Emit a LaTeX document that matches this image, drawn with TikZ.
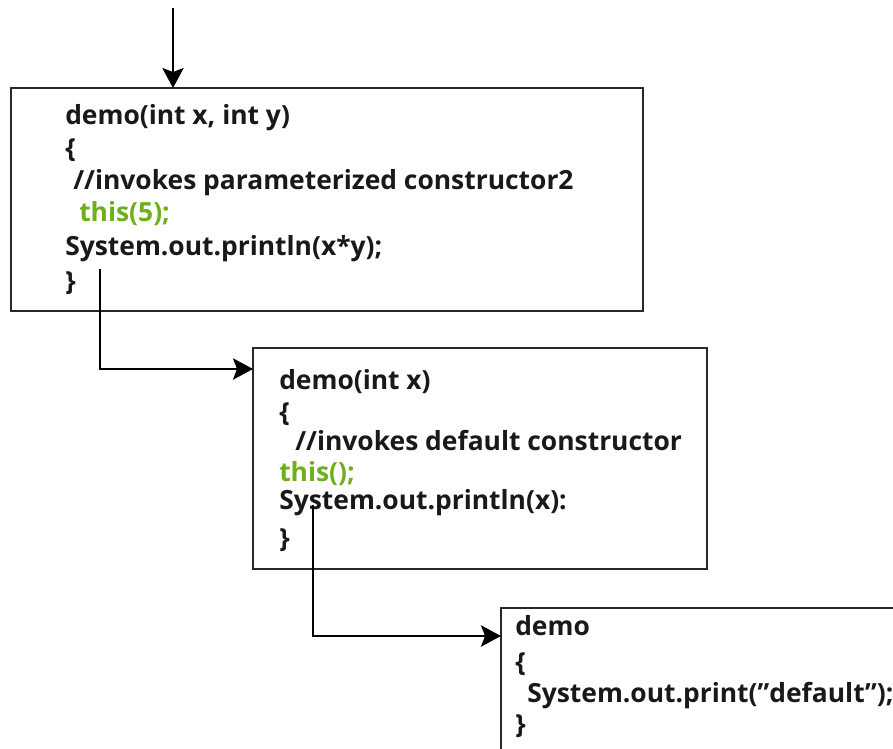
\documentclass[tikz,border=0pt]{standalone}
\usepackage{fontspec}
\setmainfont{Open Sans}
\usetikzlibrary{arrows.meta}
\definecolor{codegreen}{RGB}{110,175,30}
\definecolor{framegray}{RGB}{40,40,40}
\tikzset{
  codebox/.style={draw=framegray, line width=1.9pt},
  codeline/.style={anchor=base west, inner sep=0pt, font=\bfseries\fontsize{19.8}{22}\selectfont, text=black!90},
  greenline/.style={codeline, text=codegreen},
  flow/.style={draw=black, line width=1.5pt, -{Stealth[length=15pt,width=16pt,inset=3pt]}},
}
\begin{document}
\begin{tikzpicture}[x=0.75pt,y=-0.75pt]
  \useasboundingbox (0,0) rectangle (893,749);
  \clip (0,0) rectangle (893,749);

  % caller entry point
  \coordinate (entry) at (173,8);

  % constructor with two parameters
  \draw[codebox] (11,88) rectangle (643,311);
  \coordinate (boxAtop) at (173,88);
  \node[codeline]  (a1) at (65,125) {demo(int x, int y)};
  \node[codeline]  (a2) at (65,157) {\{};
  \node[codeline]  (a3) at (73,190) {//invokes parameterized constructor2};
  \node[greenline] (a4) at (79,221) {this(5);};
  \node[codeline]  (a5) at (65,255) {System.out.println(x*y);};
  \node[codeline]  (a6) at (65,290) {\}};

  % constructor with one parameter
  \draw[codebox] (253,348) rectangle (707,569);
  \coordinate (boxBleft) at (253,369);
  \node[codeline]  (b1) at (279,389) {demo(int x)};
  \node[codeline]  (b2) at (279,421) {\{};
  \node[codeline]  (b3) at (295,450) {//invokes default constructor};
  \node[greenline] (b4) at (279,481) {this();};
  \node[codeline]  (b5) at (279,509) {System.out.println(x):};
  \node[codeline]  (b6) at (279,547) {\}};

  % default constructor
  \draw[codebox] (501,608) rectangle (920,780);
  \coordinate (boxCleft) at (501,636);
  \node[codeline]  (c1) at (515,635) {demo};
  \node[codeline]  (c2) at (515,671) {\{};
  \node[codeline]  (c3) at (527,702) {System.out.print(”default”);};
  \node[codeline]  (c4) at (515,733) {\}};

  % call chain
  \coordinate (fromA) at (100,269);
  \coordinate (fromB) at (313,505);
  \draw[flow] (entry) -- (boxAtop);
  \draw[flow] (fromA) |- (boxBleft);
  \draw[flow] (fromB) |- (boxCleft);
\end{tikzpicture}
\end{document}
